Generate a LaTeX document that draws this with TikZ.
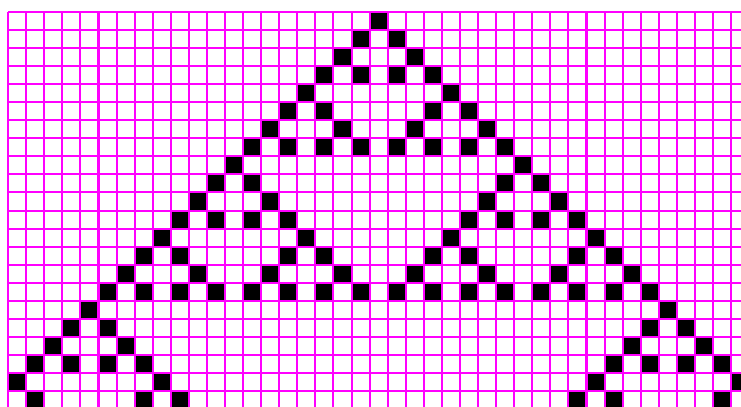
\documentclass[tikz,border=0pt]{standalone}
\definecolor{gridpink}{RGB}{255,0,255}
\begin{document}
\begin{tikzpicture}[x=0.5cm,y=0.5cm,
  cell/.style={fill=black},
  gridline/.style={draw=gridpink,line width=1.6pt}]
\useasboundingbox (-0.45,0.65) rectangle (40.55,-21.82);
\clip (-0.45,0.65) rectangle (40.55,-21.82);
% Rows 0-7: top triangle
\foreach \c in {20} \fill[cell] (\c,0) rectangle ++(1,-1);
\foreach \c in {19,21} \fill[cell] (\c,-1) rectangle ++(1,-1);
\foreach \c in {18,22} \fill[cell] (\c,-2) rectangle ++(1,-1);
\foreach \c in {17,19,21,23} \fill[cell] (\c,-3) rectangle ++(1,-1);
\foreach \c in {16,24} \fill[cell] (\c,-4) rectangle ++(1,-1);
\foreach \c in {15,17,23,25} \fill[cell] (\c,-5) rectangle ++(1,-1);
\foreach \c in {14,18,22,26} \fill[cell] (\c,-6) rectangle ++(1,-1);
\foreach \c in {13,15,...,27} \fill[cell] (\c,-7) rectangle ++(1,-1);
% Rows 8-15: two triangles below
\foreach \c in {12,28} \fill[cell] (\c,-8) rectangle ++(1,-1);
\foreach \c in {11,13,27,29} \fill[cell] (\c,-9) rectangle ++(1,-1);
\foreach \c in {10,14,26,30} \fill[cell] (\c,-10) rectangle ++(1,-1);
\foreach \c in {9,11,13,15,25,27,29,31} \fill[cell] (\c,-11) rectangle ++(1,-1);
\foreach \c in {8,16,24,32} \fill[cell] (\c,-12) rectangle ++(1,-1);
\foreach \c in {7,9,15,17,23,25,31,33} \fill[cell] (\c,-13) rectangle ++(1,-1);
\foreach \c in {6,10,...,34} \fill[cell] (\c,-14) rectangle ++(1,-1);
\foreach \c in {5,7,...,35} \fill[cell] (\c,-15) rectangle ++(1,-1);
% Rows 16-21: outer edges (cut off)
\foreach \c in {4,36} \fill[cell] (\c,-16) rectangle ++(1,-1);
\foreach \c in {3,5,35,37} \fill[cell] (\c,-17) rectangle ++(1,-1);
\foreach \c in {2,6,34,38} \fill[cell] (\c,-18) rectangle ++(1,-1);
\foreach \c in {1,3,5,7,33,35,37,39} \fill[cell] (\c,-19) rectangle ++(1,-1);
\foreach \c in {0,8,32,40} \fill[cell] (\c,-20) rectangle ++(1,-1);
\foreach \c in {1,7,9,31,33,39} \fill[cell] (\c,-21) rectangle ++(1,-1);
% Grid
\draw[gridline,step=0.5cm] (0,-22) grid (41,0);
\end{tikzpicture}
\end{document}
